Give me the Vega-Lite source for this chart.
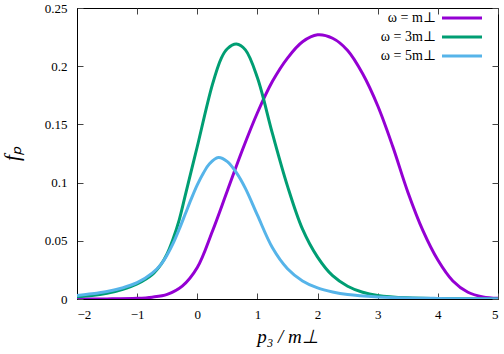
{
  "$schema": "https://vega.github.io/schema/vega-lite/v6.json",
  "width": 421,
  "height": 291,
  "autosize": "none",
  "padding": {"left": 77, "top": 8, "right": 6, "bottom": 55},
  "background": "white",
  "config": {
    "view": {"stroke": "black", "strokeWidth": 1},
    "axis": {
      "domainColor": "black",
      "tickColor": "#444444",
      "tickSize": -6,
      "grid": false,
      "labelFont": "Liberation Serif",
      "titleFont": "Liberation Serif",
      "labelColor": "black",
      "titleColor": "black"
    },
    "legend": {
      "labelFont": "'Liberation Serif', 'Times New Roman', 'DejaVu Serif', serif",
      "labelFontSize": 14,
      "labelColor": "black"
    }
  },
  "data": {
    "values": [
      {"p": -2.0, "f": 0.0000, "s": "ω = m⊥"},
      {"p": -1.5, "f": 0.0001, "s": "ω = m⊥"},
      {"p": -1.0, "f": 0.0006, "s": "ω = m⊥"},
      {"p": -0.75, "f": 0.0016, "s": "ω = m⊥"},
      {"p": -0.5, "f": 0.0040, "s": "ω = m⊥"},
      {"p": -0.25, "f": 0.0110, "s": "ω = m⊥"},
      {"p": 0.0, "f": 0.0270, "s": "ω = m⊥"},
      {"p": 0.25, "f": 0.0580, "s": "ω = m⊥"},
      {"p": 0.5, "f": 0.0930, "s": "ω = m⊥"},
      {"p": 0.75, "f": 0.1280, "s": "ω = m⊥"},
      {"p": 1.0, "f": 0.1600, "s": "ω = m⊥"},
      {"p": 1.25, "f": 0.1870, "s": "ω = m⊥"},
      {"p": 1.5, "f": 0.2070, "s": "ω = m⊥"},
      {"p": 1.75, "f": 0.2210, "s": "ω = m⊥"},
      {"p": 2.0, "f": 0.2270, "s": "ω = m⊥"},
      {"p": 2.25, "f": 0.2240, "s": "ω = m⊥"},
      {"p": 2.5, "f": 0.2135, "s": "ω = m⊥"},
      {"p": 2.75, "f": 0.1935, "s": "ω = m⊥"},
      {"p": 3.0, "f": 0.1660, "s": "ω = m⊥"},
      {"p": 3.25, "f": 0.1310, "s": "ω = m⊥"},
      {"p": 3.5, "f": 0.0920, "s": "ω = m⊥"},
      {"p": 3.75, "f": 0.0590, "s": "ω = m⊥"},
      {"p": 4.0, "f": 0.0335, "s": "ω = m⊥"},
      {"p": 4.25, "f": 0.0155, "s": "ω = m⊥"},
      {"p": 4.5, "f": 0.0058, "s": "ω = m⊥"},
      {"p": 4.75, "f": 0.0018, "s": "ω = m⊥"},
      {"p": 5.0, "f": 0.0006, "s": "ω = m⊥"},

      {"p": -2.0, "f": 0.0020, "s": "ω = 3m⊥"},
      {"p": -1.75, "f": 0.0030, "s": "ω = 3m⊥"},
      {"p": -1.5, "f": 0.0050, "s": "ω = 3m⊥"},
      {"p": -1.25, "f": 0.0082, "s": "ω = 3m⊥"},
      {"p": -1.0, "f": 0.0130, "s": "ω = 3m⊥"},
      {"p": -0.75, "f": 0.0210, "s": "ω = 3m⊥"},
      {"p": -0.6, "f": 0.0300, "s": "ω = 3m⊥"},
      {"p": -0.5, "f": 0.0390, "s": "ω = 3m⊥"},
      {"p": -0.4, "f": 0.0520, "s": "ω = 3m⊥"},
      {"p": -0.3, "f": 0.0680, "s": "ω = 3m⊥"},
      {"p": -0.2, "f": 0.0890, "s": "ω = 3m⊥"},
      {"p": -0.1, "f": 0.1100, "s": "ω = 3m⊥"},
      {"p": 0.0, "f": 0.1310, "s": "ω = 3m⊥"},
      {"p": 0.25, "f": 0.1840, "s": "ω = 3m⊥"},
      {"p": 0.4, "f": 0.2070, "s": "ω = 3m⊥"},
      {"p": 0.5, "f": 0.2150, "s": "ω = 3m⊥"},
      {"p": 0.65, "f": 0.2190, "s": "ω = 3m⊥"},
      {"p": 0.8, "f": 0.2140, "s": "ω = 3m⊥"},
      {"p": 1.0, "f": 0.1900, "s": "ω = 3m⊥"},
      {"p": 1.25, "f": 0.1420, "s": "ω = 3m⊥"},
      {"p": 1.5, "f": 0.0970, "s": "ω = 3m⊥"},
      {"p": 1.75, "f": 0.0600, "s": "ω = 3m⊥"},
      {"p": 2.0, "f": 0.0360, "s": "ω = 3m⊥"},
      {"p": 2.25, "f": 0.0200, "s": "ω = 3m⊥"},
      {"p": 2.5, "f": 0.0110, "s": "ω = 3m⊥"},
      {"p": 2.75, "f": 0.0058, "s": "ω = 3m⊥"},
      {"p": 3.0, "f": 0.0031, "s": "ω = 3m⊥"},
      {"p": 3.5, "f": 0.0010, "s": "ω = 3m⊥"},
      {"p": 4.0, "f": 0.0004, "s": "ω = 3m⊥"},
      {"p": 5.0, "f": 0.0001, "s": "ω = 3m⊥"},

      {"p": -2.0, "f": 0.0030, "s": "ω = 5m⊥"},
      {"p": -1.75, "f": 0.0045, "s": "ω = 5m⊥"},
      {"p": -1.5, "f": 0.0065, "s": "ω = 5m⊥"},
      {"p": -1.25, "f": 0.0095, "s": "ω = 5m⊥"},
      {"p": -1.0, "f": 0.0140, "s": "ω = 5m⊥"},
      {"p": -0.75, "f": 0.0222, "s": "ω = 5m⊥"},
      {"p": -0.6, "f": 0.0300, "s": "ω = 5m⊥"},
      {"p": -0.5, "f": 0.0380, "s": "ω = 5m⊥"},
      {"p": -0.4, "f": 0.0480, "s": "ω = 5m⊥"},
      {"p": -0.3, "f": 0.0600, "s": "ω = 5m⊥"},
      {"p": -0.2, "f": 0.0730, "s": "ω = 5m⊥"},
      {"p": -0.1, "f": 0.0860, "s": "ω = 5m⊥"},
      {"p": 0.0, "f": 0.0980, "s": "ω = 5m⊥"},
      {"p": 0.1, "f": 0.1080, "s": "ω = 5m⊥"},
      {"p": 0.2, "f": 0.1160, "s": "ω = 5m⊥"},
      {"p": 0.35, "f": 0.1215, "s": "ω = 5m⊥"},
      {"p": 0.5, "f": 0.1180, "s": "ω = 5m⊥"},
      {"p": 0.65, "f": 0.1085, "s": "ω = 5m⊥"},
      {"p": 0.8, "f": 0.0950, "s": "ω = 5m⊥"},
      {"p": 1.0, "f": 0.0720, "s": "ω = 5m⊥"},
      {"p": 1.25, "f": 0.0440, "s": "ω = 5m⊥"},
      {"p": 1.5, "f": 0.0260, "s": "ω = 5m⊥"},
      {"p": 1.75, "f": 0.0155, "s": "ω = 5m⊥"},
      {"p": 2.0, "f": 0.0095, "s": "ω = 5m⊥"},
      {"p": 2.25, "f": 0.0060, "s": "ω = 5m⊥"},
      {"p": 2.5, "f": 0.0038, "s": "ω = 5m⊥"},
      {"p": 3.0, "f": 0.0018, "s": "ω = 5m⊥"},
      {"p": 3.5, "f": 0.0009, "s": "ω = 5m⊥"},
      {"p": 4.0, "f": 0.0005, "s": "ω = 5m⊥"},
      {"p": 5.0, "f": 0.0001, "s": "ω = 5m⊥"}
    ]
  },
  "layer": [
    {
      "mark": {"type": "line", "interpolate": "catmull-rom", "strokeWidth": 3, "clip": true},
      "encoding": {
        "x": {
          "field": "p", "type": "quantitative",
          "scale": {"domain": [-2, 5], "nice": false, "zero": false},
          "axis": {
            "values": [-2, -1, 0, 1, 2, 3, 4, 5], "format": "d", "labelPadding": 15,
            "labelFont": "Liberation Serif", "labelFontSize": 13,
            "title": "p₃ / m⊥", "titleFont": "Liberation Serif",
            "titleFontStyle": "italic", "titleFontWeight": "normal", "titleFontSize": 19, "titlePadding": 6
          }
        },
        "y": {
          "field": "f", "type": "quantitative",
          "scale": {"domain": [0, 0.25], "nice": false},
          "axis": {
            "values": [0, 0.05, 0.1, 0.15, 0.2, 0.25], "format": "~g", "labelPadding": 16,
            "labelFont": "Liberation Serif", "labelFontSize": 13,
            "title": "fₚ", "titleFont": "Liberation Serif",
            "titleFontStyle": "italic", "titleFontWeight": "normal", "titleFontSize": 21, "titlePadding": 22
          }
        },
        "color": {
          "field": "s", "type": "nominal",
          "sort": ["ω = m⊥", "ω = 3m⊥", "ω = 5m⊥"],
          "scale": {"domain": ["ω = m⊥", "ω = 3m⊥", "ω = 5m⊥"], "range": ["#9400D3", "#009E73", "#56B4E9"]},
          "legend": {
            "title": null,
            "orient": "none",
            "legendX": 378,
            "legendY": 3,
            "padding": 0,
            "symbolType": "M-4,0H4",
            "symbolSize": 100,
            "symbolStrokeWidth": 3,
            "labelAlign": "right",
            "labelOffset": -33,
            "rowPadding": 5
          }
        }
      }
    },
    {
      "mark": {"type": "point", "opacity": 0},
      "encoding": {
        "x": {"field": "p", "type": "quantitative", "axis": {"orient": "top", "values": [-2, -1, 0, 1, 2, 3, 4, 5], "labels": false, "domain": false, "title": null}},
        "y": {"field": "f", "type": "quantitative", "axis": {"orient": "right", "values": [0, 0.05, 0.1, 0.15, 0.2, 0.25], "labels": false, "domain": false, "title": null}}
      }
    }
  ],
  "resolve": {"axis": {"x": "independent", "y": "independent"}}
}
